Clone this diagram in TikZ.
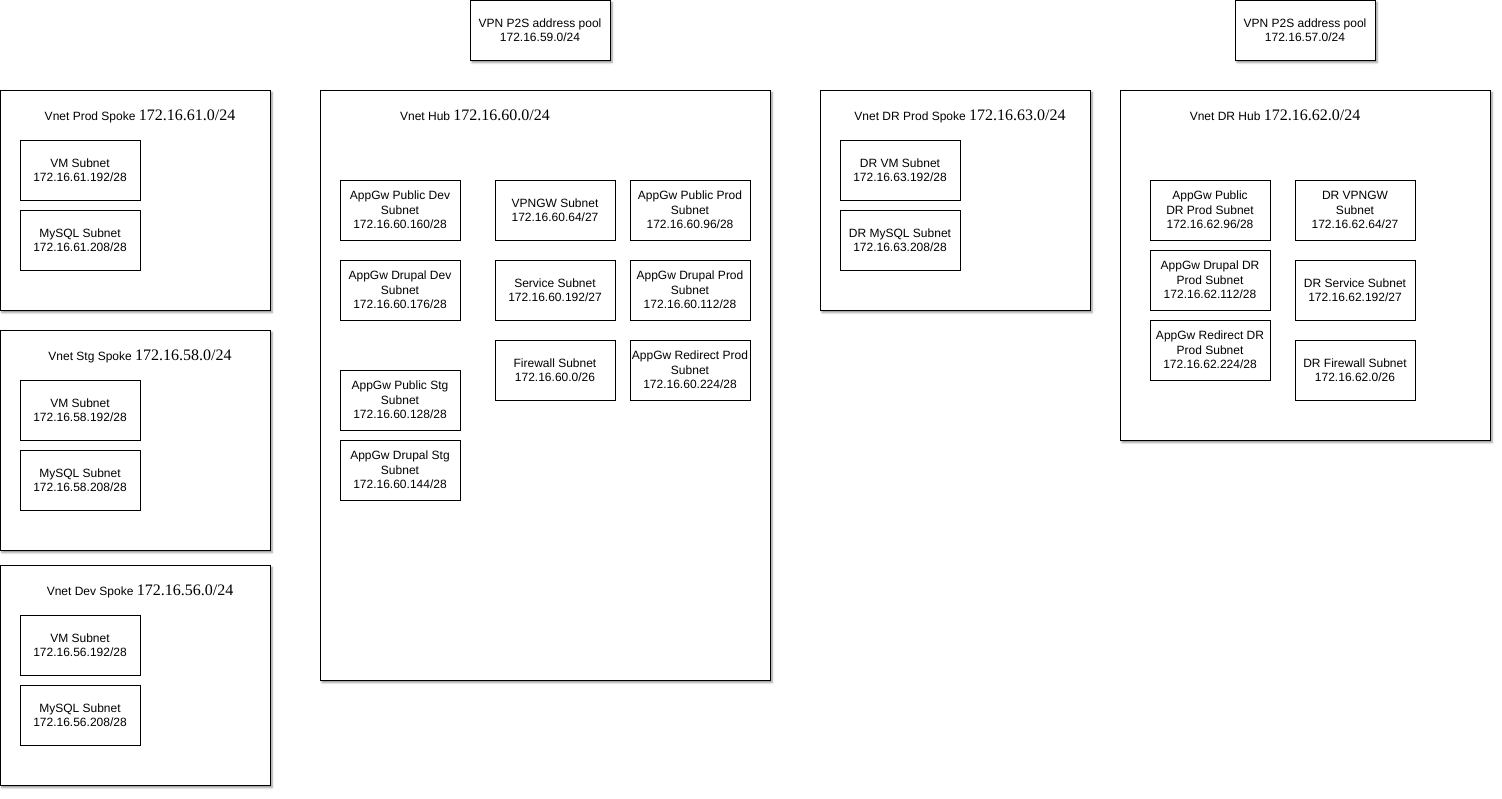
\documentclass[tikz,border=0pt]{standalone}
\usepackage{fontspec}
\setmainfont{Liberation Sans}
\newfontfamily\numfont{Liberation Serif}
\usetikzlibrary{shadows.blur}

\tikzset{
  box/.style={draw=black, line width=1pt, fill=white, inner sep=0pt, outer sep=0pt,
    anchor=north west, align=center, font=\fontsize{12}{14.5}\selectfont},
  shadowed/.style={blur shadow={shadow xshift=2pt, shadow yshift=-2.5pt,
    shadow blur radius=2pt, shadow opacity=45}},
  vnet/.style={box, shadowed},
  spoke/.style={vnet, minimum width=270pt, minimum height=220pt},
  pool/.style={box, shadowed, minimum width=140pt, minimum height=60pt},
  subnet/.style={box, minimum width=120pt, minimum height=60pt},
  vtitle/.style={font=\fontsize{12}{14}\selectfont, inner sep=0pt, anchor=base}
}
\newcommand{\cidr}[1]{{\numfont\fontsize{16}{18}\selectfont #1}}

\begin{document}
\begin{tikzpicture}[x=1pt, y=-1pt]
\useasboundingbox (0,0) rectangle (1502,798);

% point-to-site address pools
\node[pool] (pool59) at (470,0) {VPN P2S address pool\\172.16.59.0/24};
\node[pool] (pool57) at (1235,0) {VPN P2S address pool\\172.16.57.0/24};

% spokes on the left
\node[spoke] (prod) at (0,90) {};
\node[vtitle] (prodT) at (140,120) {Vnet Prod Spoke \cidr{172.16.61.0/24}};
\node[subnet] (prodVM) at (20,140) {VM Subnet\\172.16.61.192/28};
\node[subnet] (prodDB) at (20,210) {MySQL Subnet\\172.16.61.208/28};

\node[spoke] (stg) at (0,330) {};
\node[vtitle] (stgT) at (140,360) {Vnet Stg Spoke \cidr{172.16.58.0/24}};
\node[subnet] (stgVM) at (20,380) {VM Subnet\\172.16.58.192/28};
\node[subnet] (stgDB) at (20,450) {MySQL Subnet\\172.16.58.208/28};

\node[spoke] (dev) at (0,565) {};
\node[vtitle] (devT) at (140,595) {Vnet Dev Spoke \cidr{172.16.56.0/24}};
\node[subnet] (devVM) at (20,615) {VM Subnet\\172.16.56.192/28};
\node[subnet] (devDB) at (20,685) {MySQL Subnet\\172.16.56.208/28};

% hub
\node[vnet, minimum width=450pt, minimum height=590pt] (hub) at (320,90) {};
\node[vtitle] (hubT) at (475,120) {Vnet Hub \cidr{172.16.60.0/24}};
\node[subnet] (hubPubDev) at (340,180) {AppGw Public Dev\\Subnet\\172.16.60.160/28};
\node[subnet] (hubDruDev) at (340,260) {AppGw Drupal Dev\\Subnet\\172.16.60.176/28};
\node[subnet] (hubPubStg) at (340,370) {AppGw Public Stg\\Subnet\\172.16.60.128/28};
\node[subnet] (hubDruStg) at (340,440) {AppGw Drupal Stg\\Subnet\\172.16.60.144/28};
\node[subnet] (hubVpn) at (495,180) {VPNGW Subnet\\172.16.60.64/27};
\node[subnet] (hubSvc) at (495,260) {Service Subnet\\172.16.60.192/27};
\node[subnet] (hubFw) at (495,340) {Firewall Subnet\\172.16.60.0/26};
\node[subnet] (hubPubProd) at (630,180) {AppGw Public Prod\\Subnet\\172.16.60.96/28};
\node[subnet] (hubDruProd) at (630,260) {AppGw Drupal Prod\\Subnet\\172.16.60.112/28};
\node[subnet] (hubRedProd) at (630,340) {AppGw Redirect Prod\\Subnet\\172.16.60.224/28};

% disaster recovery spoke
\node[spoke] (drprod) at (820,90) {};
\node[vtitle] (drprodT) at (960,120) {Vnet DR Prod Spoke \cidr{172.16.63.0/24}};
\node[subnet] (drVM) at (840,140) {DR VM Subnet\\172.16.63.192/28};
\node[subnet] (drDB) at (840,210) {DR MySQL Subnet\\172.16.63.208/28};

% disaster recovery hub
\node[vnet, minimum width=370pt, minimum height=350pt] (drhub) at (1120,90) {};
\node[vtitle] (drhubT) at (1275,120) {Vnet DR Hub \cidr{172.16.62.0/24}};
\node[subnet] (drPub) at (1150,180) {AppGw Public\\DR Prod Subnet\\172.16.62.96/28};
\node[subnet] (drDru) at (1150,250) {AppGw Drupal DR\\Prod Subnet\\172.16.62.112/28};
\node[subnet] (drRed) at (1150,320) {AppGw Redirect DR\\Prod Subnet\\172.16.62.224/28};
\node[subnet] (drVpn) at (1295,180) {DR VPNGW\\Subnet\\172.16.62.64/27};
\node[subnet] (drSvc) at (1295,260) {DR Service Subnet\\172.16.62.192/27};
\node[subnet] (drFw) at (1295,340) {DR Firewall Subnet\\172.16.62.0/26};
\end{tikzpicture}
\end{document}
